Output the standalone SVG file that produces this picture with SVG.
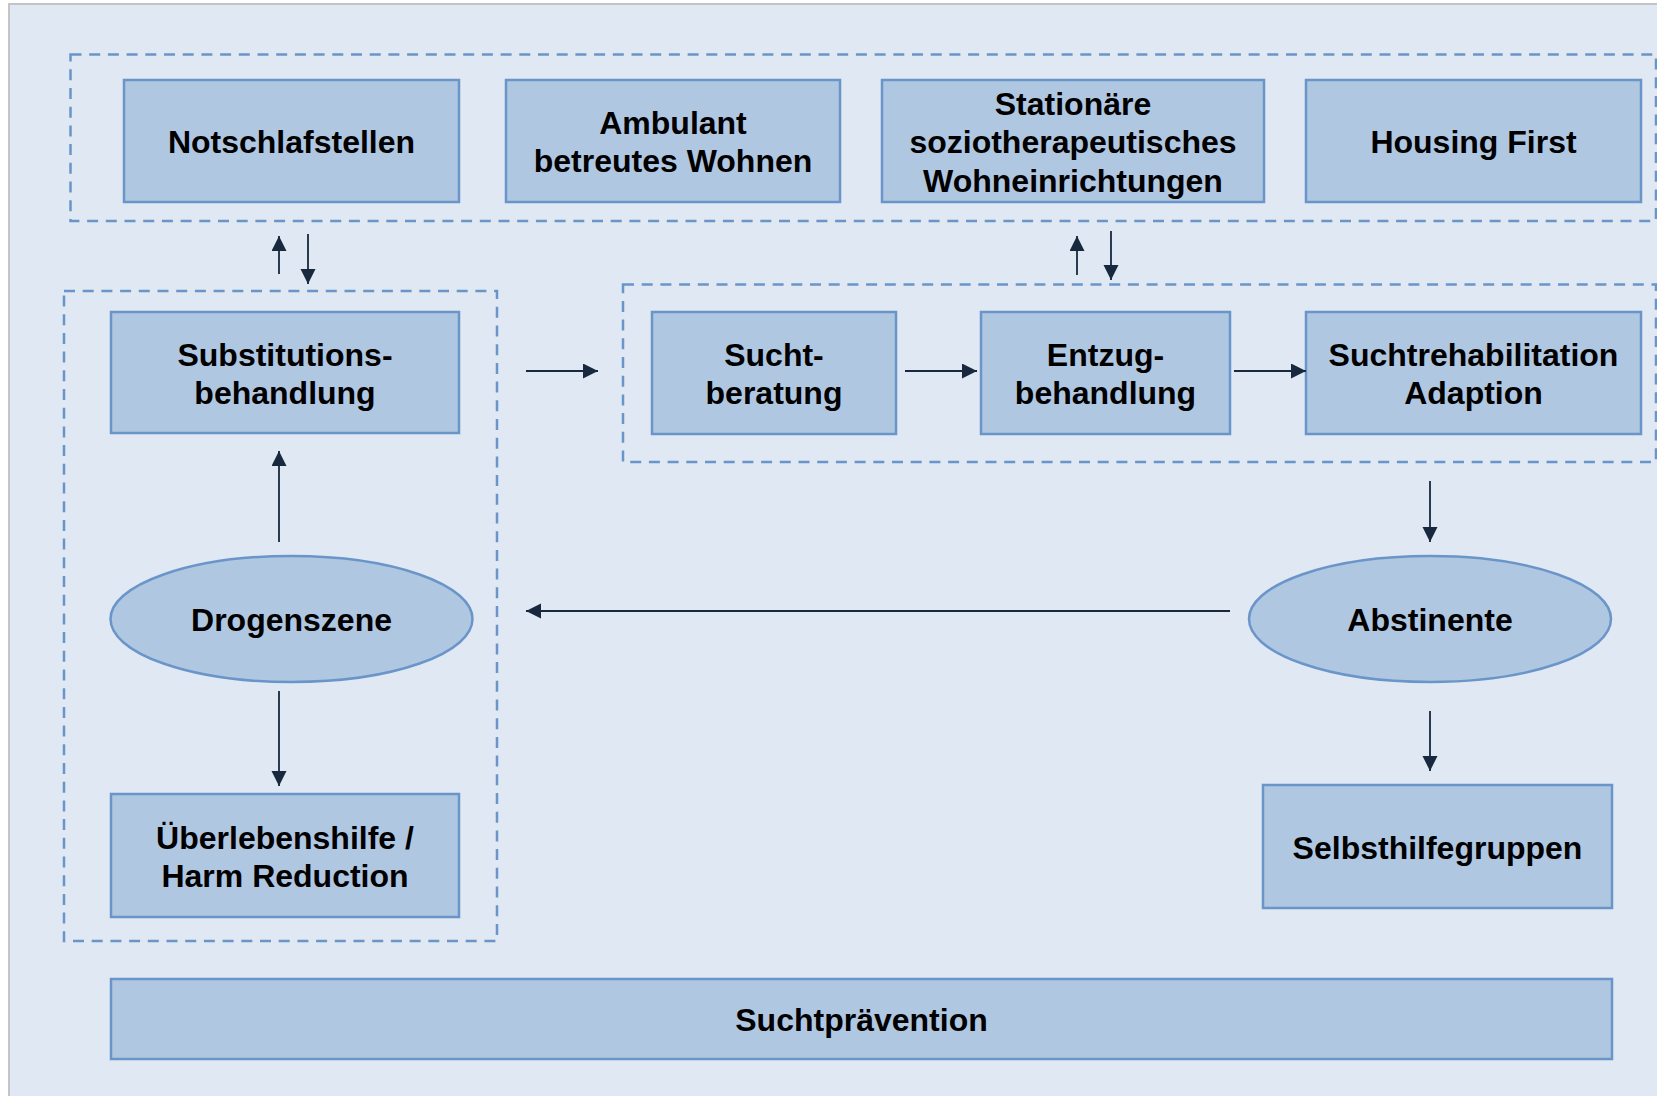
<svg xmlns="http://www.w3.org/2000/svg" width="1657" height="1096" viewBox="0 0 1657 1096">
<defs>
<marker id="ah" markerUnits="userSpaceOnUse" markerWidth="16" markerHeight="16" refX="15" refY="7.5" orient="auto">
<path d="M0,0 L15,7.5 L0,15 Z" fill="#17283F"/>
</marker>
<style>
.box{fill:#B0C7E2;stroke:#6A95C9;stroke-width:2.5}
.grp{fill:none;stroke:#6A95C9;stroke-width:2.5;stroke-dasharray:11 7.7}
.t{font-family:"Liberation Sans",Arial,sans-serif;font-weight:bold;font-size:32px;fill:#000;text-anchor:middle}
.c{stroke:#17283F;stroke-width:1.8;fill:none;marker-end:url(#ah)}
</style>
</defs>
<rect x="0" y="0" width="1657" height="1096" fill="#FFFFFF"/>
<rect x="9" y="4" width="1700" height="1200" fill="#E0E8F3" stroke="#C4C4C4" stroke-width="2"/>

<g id="groups">
<rect class="grp" x="70.5" y="54.5" width="1585.5" height="166.5"/>
<rect class="grp" x="64" y="291" width="433" height="650"/>
<rect class="grp" x="623" y="284.5" width="1033" height="177.5"/>
</g>

<g id="n-notschlaf"><rect class="box" x="124" y="80" width="335" height="122"/><text class="t" x="291.5" y="153">Notschlafstellen</text></g>
<g id="n-ambulant"><rect class="box" x="506" y="80" width="334" height="122"/><text class="t" x="673" y="134">Ambulant</text><text class="t" x="673" y="172">betreutes Wohnen</text></g>
<g id="n-stationaer"><rect class="box" x="882" y="80" width="382" height="122"/><text class="t" x="1073" y="114.5">Stationäre</text><text class="t" x="1073" y="153">soziotherapeutisches</text><text class="t" x="1073" y="191.5">Wohneinrichtungen</text></g>
<g id="n-housing"><rect class="box" x="1306" y="80" width="335" height="122"/><text class="t" x="1473.5" y="153">Housing First</text></g>

<g id="n-substitution"><rect class="box" x="111" y="312" width="348" height="121"/><text class="t" x="285" y="365.5">Substitutions-</text><text class="t" x="285" y="403.5">behandlung</text></g>
<g id="n-suchtberatung"><rect class="box" x="652" y="312" width="244" height="122"/><text class="t" x="774" y="366">Sucht-</text><text class="t" x="774" y="404">beratung</text></g>
<g id="n-entzug"><rect class="box" x="981" y="312" width="249" height="122"/><text class="t" x="1105.5" y="366">Entzug-</text><text class="t" x="1105.5" y="404">behandlung</text></g>
<g id="n-suchtreha"><rect class="box" x="1306" y="312" width="335" height="122"/><text class="t" x="1473.5" y="366">Suchtrehabilitation</text><text class="t" x="1473.5" y="404">Adaption</text></g>

<g id="n-drogenszene"><ellipse class="box" cx="291.5" cy="619" rx="181" ry="63"/><text class="t" x="291.5" y="631">Drogenszene</text></g>
<g id="n-abstinente"><ellipse class="box" cx="1430" cy="619" rx="181" ry="63"/><text class="t" x="1430" y="631">Abstinente</text></g>

<g id="n-ueberleben"><rect class="box" x="111" y="794" width="348" height="123"/><text class="t" x="285" y="848.5">Überlebenshilfe /</text><text class="t" x="285" y="886.5">Harm Reduction</text></g>
<g id="n-selbsthilfe"><rect class="box" x="1263" y="785" width="349" height="123"/><text class="t" x="1437.5" y="858.5">Selbsthilfegruppen</text></g>
<g id="n-praevention"><rect class="box" x="111" y="979" width="1501" height="80"/><text class="t" x="861.5" y="1031">Suchtprävention</text></g>

<g id="connectors">
<line class="c" x1="279" y1="274" x2="279" y2="236"/>
<line class="c" x1="308" y1="234" x2="308" y2="284"/>
<line class="c" x1="1077" y1="275" x2="1077" y2="236"/>
<line class="c" x1="1111" y1="231" x2="1111" y2="280"/>
<line class="c" x1="526" y1="371" x2="598" y2="371"/>
<line class="c" x1="905" y1="371" x2="977" y2="371"/>
<line class="c" x1="1234" y1="371" x2="1306" y2="371"/>
<line class="c" x1="279" y1="542" x2="279" y2="451"/>
<line class="c" x1="279" y1="691" x2="279" y2="786"/>
<line class="c" x1="1430" y1="481" x2="1430" y2="542"/>
<line class="c" x1="1430" y1="711" x2="1430" y2="771"/>
<line class="c" x1="1230" y1="611" x2="526" y2="611"/>
</g>
</svg>
